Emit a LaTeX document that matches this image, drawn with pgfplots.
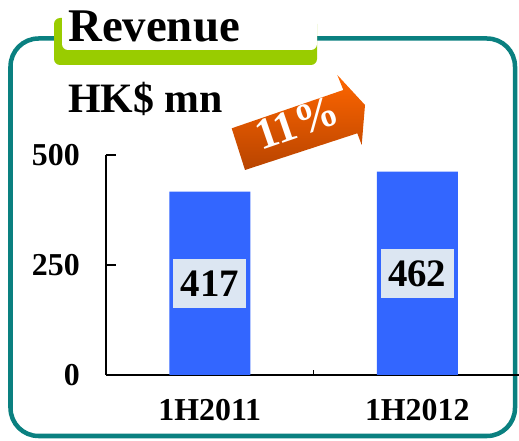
\documentclass[border=0pt]{standalone}
\usepackage{fontspec}
\setmainfont{Liberation Serif}
\usepackage{pgfplots}
\pgfplotsset{compat=1.18}
\usepackage{pgfplotstable}

\definecolor{barblue}{HTML}{3366FF}
\definecolor{labelbg}{HTML}{DCE6F2}
\definecolor{frameteal}{HTML}{0A8080}
\definecolor{tabgreen}{HTML}{99CC00}
\definecolor{arroworange}{HTML}{FF6600}
\definecolor{arrowdark}{HTML}{B84400}

% revenue, HK$ mn
\pgfplotstableread{
x y
0 417
1 462
}\revenue

\begin{document}
\begin{tikzpicture}
\path[use as bounding box] (0bp,0bp) rectangle (519bp,441bp);

\begin{scope}[x=1bp,y=1bp]
% frame and title tab
\draw[frameteal, line width=4.5bp, rounded corners=28bp] (10.5,5) rectangle (515,402.5);
\fill[tabgreen, rounded corners=6bp] (54,376) rectangle (317,423);
\fill[white, rounded corners=6bp] (62,391) rectangle (317,460);
\node[anchor=base west, inner sep=0, font=\fontsize{47}{47}\selectfont\bfseries] at (68,399) {Revenue};
\node[anchor=base west, inner sep=0, font=\fontsize{42}{42}\selectfont\bfseries] at (68,329) {HK\$ mn};
\end{scope}

\begin{axis}[
    at={(106bp,66bp)}, anchor=south west,
    scale only axis, width=415bp, height=220bp,
    xmin=-0.5, xmax=1.5, ymin=0, ymax=500,
    axis x line=bottom, axis y line=left,
    x axis line style={-, line width=2.5bp},
    y axis line style={-, line width=1.5bp},
    tick align=inside,
    ytick={0,250,500},
    ytick style={line width=1.5bp, black},
    major tick length=10bp,
    xtick={0,1}, xticklabels={1H2011,1H2012},
    xtick style={draw=none},
    extra x ticks={0.5}, extra x tick labels={},
    extra x tick style={xtick style={draw=black, line width=1bp}, major tick length=5bp},
    ticklabel style={font=\fontsize{32}{32}\selectfont\bfseries, inner sep=0pt},
    /pgf/number format/assume math mode=true,
    yticklabel style={xshift=-26bp},
    xticklabel style={yshift=-24bp},
    clip=false,
]
\addplot[ybar, bar width=81bp, fill=barblue, draw=none] table[x=x, y=y] {\revenue};
\addplot[draw=none, mark=none, point meta=explicit symbolic,
    nodes near coords,
    every node near coord/.style={anchor=center, fill=labelbg, text=black,
        minimum width=73bp, minimum height=49bp, inner sep=0pt,
        font=\fontsize{39}{39}\selectfont\bfseries}]
    table[x=x, y expr=\thisrow{y}/2, meta=y] {\revenue};
\end{axis}

% growth arrow
\begin{scope}[x=1bp,y=1bp]
\shade[top color=arroworange, middle color=arroworange, bottom color=arrowdark]
  (231.7,312.7) -- (343.3,351) -- (337.3,366) -- (365,336)
  -- (361.7,296) -- (357.3,307.7) -- (245,271) -- cycle;
\node[rotate=19, text=white, font=\fontsize{44}{44}\selectfont\bfseries] at (297,318) {11\%};
\end{scope}
\end{tikzpicture}
\end{document}
